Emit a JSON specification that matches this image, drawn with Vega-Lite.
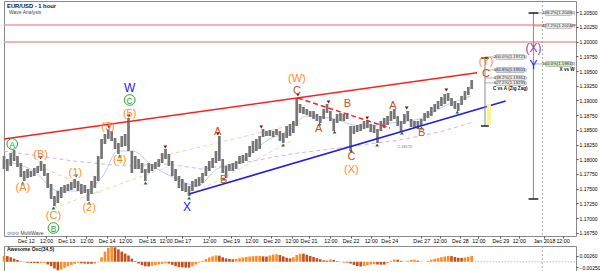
{
"$schema":"https://vega.github.io/schema/vega-lite/v6.json",
"padding":0,
"spacing":0,
"background":"white",
"config":{"view":{"stroke":"#8a8a8a","strokeWidth":1},"font":"Liberation Sans","axis":{"labelFont":"Liberation Sans","labelColor":"#000","tickColor":"#555","labelOverlap":false}},
"datasets":{
"bars":[
{"h":0,"u":1.18055,"l":1.17834},{"h":2,"u":1.18004,"l":1.178},{"h":4,"u":1.18106,"l":1.17885},{"h":6,"u":1.18157,"l":1.1797},{"h":8,"u":1.18055,"l":1.17868},{"h":10,"u":1.17936,"l":1.17698},{"h":12,"u":1.178,"l":1.1763},{"h":14,"u":1.17834,"l":1.17681},{"h":16,"u":1.178,"l":1.17698},{"h":18,"u":1.17851,"l":1.17715},{"h":20,"u":1.17885,"l":1.17766},{"h":22,"u":1.1797,"l":1.178},{"h":24,"u":1.17919,"l":1.17715},{"h":26,"u":1.17766,"l":1.17511},{"h":28,"u":1.17579,"l":1.17324},{"h":30,"u":1.17375,"l":1.17205},{"h":32,"u":1.1746,"l":1.17256},{"h":34,"u":1.17528,"l":1.17341},{"h":36,"u":1.17562,"l":1.17426},{"h":38,"u":1.17579,"l":1.1746},{"h":40,"u":1.17613,"l":1.17477},{"h":42,"u":1.17664,"l":1.17511},{"h":44,"u":1.1763,"l":1.1746},{"h":46,"u":1.17579,"l":1.17409},{"h":48,"u":1.17562,"l":1.17426},{"h":50,"u":1.17494,"l":1.1729},{"h":52,"u":1.1763,"l":1.17409},{"h":54,"u":1.17715,"l":1.17511},{"h":56,"u":1.18055,"l":1.1763},{"h":58,"u":1.18344,"l":1.18004},{"h":60,"u":1.18429,"l":1.18259},{"h":62,"u":1.18514,"l":1.18344},{"h":64,"u":1.1848,"l":1.1831},{"h":66,"u":1.18361,"l":1.18174},{"h":68,"u":1.18276,"l":1.18089},{"h":70,"u":1.18395,"l":1.18208},{"h":72,"u":1.18429,"l":1.18225},{"h":74,"u":1.18701,"l":1.1814},{"h":76,"u":1.1814,"l":1.17766},{"h":78,"u":1.18055,"l":1.17834},{"h":80,"u":1.18004,"l":1.17834},{"h":82,"u":1.17936,"l":1.17766},{"h":84,"u":1.17834,"l":1.1763},{"h":86,"u":1.17936,"l":1.17766},{"h":88,"u":1.17919,"l":1.178},{"h":90,"u":1.17953,"l":1.17834},{"h":92,"u":1.18004,"l":1.17868},{"h":94,"u":1.18106,"l":1.17936},{"h":96,"u":1.18174,"l":1.18004},{"h":98,"u":1.18089,"l":1.17885},{"h":100,"u":1.1797,"l":1.17715},{"h":102,"u":1.17834,"l":1.1763},{"h":104,"u":1.17715,"l":1.17511},{"h":106,"u":1.17664,"l":1.1746},{"h":108,"u":1.17596,"l":1.17443},{"h":110,"u":1.17545,"l":1.17375},{"h":112,"u":1.1763,"l":1.1746},{"h":114,"u":1.17664,"l":1.17528},{"h":116,"u":1.17698,"l":1.17545},{"h":118,"u":1.17766,"l":1.17596},{"h":120,"u":1.17885,"l":1.17715},{"h":122,"u":1.1797,"l":1.178},{"h":124,"u":1.18021,"l":1.17851},{"h":126,"u":1.1814,"l":1.17936},{"h":128,"u":1.18395,"l":1.1797},{"h":130,"u":1.18004,"l":1.17766},{"h":132,"u":1.17885,"l":1.17681},{"h":134,"u":1.17919,"l":1.178},{"h":136,"u":1.17936,"l":1.178},{"h":138,"u":1.1797,"l":1.17834},{"h":140,"u":1.18055,"l":1.17919},{"h":142,"u":1.18072,"l":1.17936},{"h":144,"u":1.18106,"l":1.1797},{"h":146,"u":1.18225,"l":1.18038},{"h":148,"u":1.1831,"l":1.18106},{"h":150,"u":1.18344,"l":1.1814},{"h":152,"u":1.18395,"l":1.18174},{"h":154,"u":1.18514,"l":1.18378},{"h":156,"u":1.1848,"l":1.18395},{"h":158,"u":1.18497,"l":1.18395},{"h":160,"u":1.1848,"l":1.18378},{"h":162,"u":1.18514,"l":1.18412},{"h":164,"u":1.1848,"l":1.1831},{"h":166,"u":1.18446,"l":1.18276},{"h":168,"u":1.18565,"l":1.18361},{"h":170,"u":1.18599,"l":1.18395},{"h":172,"u":1.1865,"l":1.18446},{"h":174,"u":1.19041,"l":1.18565},{"h":176,"u":1.18939,"l":1.18786},{"h":178,"u":1.18888,"l":1.18769},{"h":180,"u":1.18854,"l":1.18752},{"h":182,"u":1.1882,"l":1.18718},{"h":184,"u":1.1882,"l":1.18684},{"h":186,"u":1.18769,"l":1.1865},{"h":188,"u":1.18735,"l":1.18616},{"h":190,"u":1.18854,"l":1.18684},{"h":192,"u":1.18939,"l":1.18786},{"h":194,"u":1.1882,"l":1.1865},{"h":196,"u":1.18684,"l":1.1848},{"h":198,"u":1.18769,"l":1.18616},{"h":200,"u":1.18786,"l":1.1865},{"h":202,"u":1.18769,"l":1.1865},{"h":204,"u":1.18786,"l":1.18684},{"h":206,"u":1.18565,"l":1.1814},{"h":208,"u":1.18565,"l":1.18429},{"h":210,"u":1.18582,"l":1.18463},{"h":212,"u":1.18599,"l":1.1848},{"h":214,"u":1.1865,"l":1.18514},{"h":216,"u":1.18667,"l":1.18531},{"h":218,"u":1.18599,"l":1.18463},{"h":220,"u":1.18582,"l":1.18446},{"h":222,"u":1.18514,"l":1.18276},{"h":224,"u":1.1865,"l":1.1848},{"h":226,"u":1.18701,"l":1.18531},{"h":228,"u":1.18735,"l":1.18582},{"h":230,"u":1.1882,"l":1.1865},{"h":232,"u":1.18854,"l":1.18684},{"h":234,"u":1.18735,"l":1.18565},{"h":236,"u":1.1865,"l":1.1848},{"h":238,"u":1.18769,"l":1.18599},{"h":240,"u":1.1882,"l":1.1865},{"h":242,"u":1.18684,"l":1.18548},{"h":244,"u":1.1865,"l":1.18531},{"h":246,"u":1.1865,"l":1.18514},{"h":248,"u":1.18684,"l":1.18565},{"h":250,"u":1.18786,"l":1.1865},{"h":252,"u":1.1882,"l":1.18701},{"h":254,"u":1.18888,"l":1.18735},{"h":256,"u":1.18939,"l":1.18803},{"h":258,"u":1.1899,"l":1.18854},{"h":260,"u":1.19058,"l":1.18905},{"h":262,"u":1.19109,"l":1.18939},{"h":264,"u":1.19126,"l":1.1899},{"h":266,"u":1.19041,"l":1.18905},{"h":268,"u":1.1899,"l":1.18854},{"h":270,"u":1.18956,"l":1.1882},{"h":272,"u":1.19075,"l":1.18922},{"h":274,"u":1.1916,"l":1.19007},{"h":276,"u":1.19228,"l":1.19092},{"h":278,"u":1.19347,"l":1.19194}
],
"ao":[
{"h":0,"v":0.0026,"d":"up"},{"h":2,"v":0.0025,"d":"down"},{"h":4,"v":0.002,"d":"down"},{"h":6,"v":0.0014,"d":"down"},{"h":8,"v":0.0008,"d":"down"},{"h":10,"v":0.0002,"d":"down"},{"h":12,"v":-0.0002,"d":"down"},{"h":14,"v":-0.0004,"d":"down"},{"h":16,"v":-0.0005,"d":"down"},{"h":18,"v":-0.0006,"d":"down"},{"h":20,"v":-0.0007,"d":"down"},{"h":22,"v":-0.0006,"d":"up"},{"h":24,"v":-0.0005,"d":"up"},{"h":26,"v":-0.0012,"d":"down"},{"h":28,"v":-0.002,"d":"down"},{"h":30,"v":-0.003,"d":"down"},{"h":32,"v":-0.0038,"d":"down"},{"h":34,"v":-0.0034,"d":"up"},{"h":36,"v":-0.0027,"d":"up"},{"h":38,"v":-0.002,"d":"up"},{"h":40,"v":-0.0014,"d":"up"},{"h":42,"v":-0.0009,"d":"up"},{"h":44,"v":-0.0005,"d":"up"},{"h":46,"v":-0.0007,"d":"down"},{"h":48,"v":-0.0008,"d":"down"},{"h":50,"v":-0.0009,"d":"down"},{"h":52,"v":-0.0009,"d":"down"},{"h":54,"v":-0.0008,"d":"up"},{"h":56,"v":-0.0002,"d":"up"},{"h":58,"v":0.002,"d":"up"},{"h":60,"v":0.0045,"d":"up"},{"h":62,"v":0.0062,"d":"up"},{"h":64,"v":0.0068,"d":"up"},{"h":66,"v":0.0064,"d":"down"},{"h":68,"v":0.0055,"d":"down"},{"h":70,"v":0.0045,"d":"down"},{"h":72,"v":0.0036,"d":"down"},{"h":74,"v":0.0028,"d":"down"},{"h":76,"v":0.0014,"d":"down"},{"h":78,"v":0.0003,"d":"down"},{"h":80,"v":-0.0008,"d":"down"},{"h":82,"v":-0.0015,"d":"down"},{"h":84,"v":-0.002,"d":"down"},{"h":86,"v":-0.0021,"d":"down"},{"h":88,"v":-0.0018,"d":"up"},{"h":90,"v":-0.0015,"d":"up"},{"h":92,"v":-0.0012,"d":"up"},{"h":94,"v":-0.0009,"d":"up"},{"h":96,"v":-0.0007,"d":"up"},{"h":98,"v":-0.0008,"d":"down"},{"h":100,"v":-0.0014,"d":"down"},{"h":102,"v":-0.002,"d":"down"},{"h":104,"v":-0.0024,"d":"down"},{"h":106,"v":-0.0025,"d":"down"},{"h":108,"v":-0.0026,"d":"down"},{"h":110,"v":-0.0026,"d":"down"},{"h":112,"v":-0.002,"d":"up"},{"h":114,"v":-0.0012,"d":"up"},{"h":116,"v":-0.0004,"d":"up"},{"h":118,"v":0.0004,"d":"up"},{"h":120,"v":0.0012,"d":"up"},{"h":122,"v":0.0019,"d":"up"},{"h":124,"v":0.0024,"d":"up"},{"h":126,"v":0.0028,"d":"up"},{"h":128,"v":0.0027,"d":"down"},{"h":130,"v":0.002,"d":"down"},{"h":132,"v":0.0015,"d":"down"},{"h":134,"v":0.0012,"d":"down"},{"h":136,"v":0.0011,"d":"down"},{"h":138,"v":0.0013,"d":"up"},{"h":140,"v":0.0016,"d":"up"},{"h":142,"v":0.0019,"d":"up"},{"h":144,"v":0.0021,"d":"up"},{"h":146,"v":0.0023,"d":"up"},{"h":148,"v":0.0025,"d":"up"},{"h":150,"v":0.0026,"d":"up"},{"h":152,"v":0.0026,"d":"up"},{"h":154,"v":0.0024,"d":"down"},{"h":156,"v":0.0023,"d":"down"},{"h":158,"v":0.0028,"d":"up"},{"h":160,"v":0.0032,"d":"up"},{"h":162,"v":0.0033,"d":"up"},{"h":164,"v":0.003,"d":"down"},{"h":166,"v":0.0024,"d":"down"},{"h":168,"v":0.0018,"d":"down"},{"h":170,"v":0.0015,"d":"down"},{"h":172,"v":0.002,"d":"up"},{"h":174,"v":0.003,"d":"up"},{"h":176,"v":0.0036,"d":"up"},{"h":178,"v":0.0036,"d":"down"},{"h":180,"v":0.0031,"d":"down"},{"h":182,"v":0.0026,"d":"down"},{"h":184,"v":0.0021,"d":"down"},{"h":186,"v":0.0016,"d":"down"},{"h":188,"v":0.0011,"d":"down"},{"h":190,"v":0.0006,"d":"down"},{"h":192,"v":0.0005,"d":"down"},{"h":194,"v":0.001,"d":"up"},{"h":196,"v":0.0008,"d":"down"},{"h":198,"v":0.0003,"d":"down"},{"h":200,"v":-0.0001,"d":"down"},{"h":202,"v":-0.0003,"d":"down"},{"h":204,"v":-0.0004,"d":"down"},{"h":206,"v":-0.0008,"d":"down"},{"h":208,"v":-0.0014,"d":"down"},{"h":210,"v":-0.0019,"d":"down"},{"h":212,"v":-0.0021,"d":"down"},{"h":214,"v":-0.0019,"d":"up"},{"h":216,"v":-0.0015,"d":"up"},{"h":218,"v":-0.0012,"d":"up"},{"h":220,"v":-0.0011,"d":"up"},{"h":222,"v":-0.0012,"d":"down"},{"h":224,"v":-0.0013,"d":"down"},{"h":226,"v":-0.0013,"d":"down"},{"h":228,"v":-0.0005,"d":"up"},{"h":230,"v":0.0004,"d":"up"},{"h":232,"v":0.001,"d":"up"},{"h":234,"v":0.0009,"d":"down"},{"h":236,"v":0.0004,"d":"down"},{"h":238,"v":0.0001,"d":"down"},{"h":240,"v":0.0004,"d":"up"},{"h":242,"v":0.0008,"d":"up"},{"h":244,"v":0.0009,"d":"up"},{"h":246,"v":0.0005,"d":"down"},{"h":248,"v":0.0001,"d":"down"},{"h":250,"v":0.0,"d":"down"},{"h":252,"v":0.0004,"d":"up"},{"h":254,"v":0.0009,"d":"up"},{"h":256,"v":0.0013,"d":"up"},{"h":258,"v":0.0016,"d":"up"},{"h":260,"v":0.002,"d":"up"},{"h":262,"v":0.0023,"d":"up"},{"h":264,"v":0.0026,"d":"up"},{"h":266,"v":0.0025,"d":"down"},{"h":268,"v":0.0021,"d":"down"},{"h":270,"v":0.0018,"d":"down"},{"h":272,"v":0.0017,"d":"down"},{"h":274,"v":0.0019,"d":"up"},{"h":276,"v":0.0022,"d":"up"},{"h":278,"v":0.0026,"d":"up"}
],
"lines":[
{"id":"red","h":0,"p":1.18344},{"id":"red","h":281.2,"p":1.1947},
{"id":"blue","h":110,"p":1.17409},{"id":"blue","h":298.2,"p":1.1899},
{"id":"rdash","h":174.7,"p":1.19041},{"id":"rdash","h":229.4,"p":1.18531},
{"id":"pA","h":20.6,"p":1.17885},{"id":"pA","h":57.1,"p":1.17426},
{"id":"pB","h":94.1,"p":1.18055},{"id":"pB","h":176.5,"p":1.18616},
{"id":"gC","h":29.4,"p":1.17171},{"id":"gC","h":97.1,"p":1.17868},
{"id":"gD","h":110,"p":1.17375},{"id":"gD","h":170.6,"p":1.1831},
{"id":"lav","h":0,"p":1.1814},{"id":"lav","h":41.2,"p":1.1797},{"id":"lav","h":70.6,"p":1.17885},{"id":"lav","h":97.1,"p":1.17919},{"id":"lav","h":117.6,"p":1.17834},{"id":"lav","h":141.2,"p":1.17936},{"id":"lav","h":170.6,"p":1.18089},{"id":"lav","h":194.1,"p":1.18174},{"id":"lav","h":235.3,"p":1.18327},{"id":"lav","h":258.8,"p":1.18463},{"id":"lav","h":279.4,"p":1.18633},
{"id":"lb","h":0,"p":1.1797},{"id":"lb","h":17.6,"p":1.178},{"id":"lb","h":32.4,"p":1.1746},{"id":"lb","h":47.1,"p":1.1746},{"id":"lb","h":58.8,"p":1.17715},{"id":"lb","h":67.6,"p":1.1814},{"id":"lb","h":76.5,"p":1.1814},{"id":"lb","h":88.2,"p":1.17885},{"id":"lb","h":102.9,"p":1.17664},{"id":"lb","h":114.7,"p":1.17545},{"id":"lb","h":126.5,"p":1.17834},{"id":"lb","h":141.2,"p":1.1797},{"id":"lb","h":155.9,"p":1.1831},{"id":"lb","h":170.6,"p":1.18514},{"id":"lb","h":179.4,"p":1.18735},{"id":"lb","h":194.1,"p":1.18701},{"id":"lb","h":211.8,"p":1.18565},{"id":"lb","h":229.4,"p":1.18616},{"id":"lb","h":247.1,"p":1.18684},{"id":"lb","h":261.8,"p":1.18905},{"id":"lb","h":277.6,"p":1.19075}
],
"hl":[{"p":1.20282},{"p":1.19993}],
"jan":[{"h":320}],
"vlines":[{"h":285.9,"p1":1.19721,"p2":1.18565},{"h":314.7,"p1":1.20486,"p2":1.17324}],
"caps":[{"h1":283.5,"h2":288.2,"p":1.19721},{"h1":283.5,"h2":288.2,"p":1.18565},{"h1":311.8,"h2":317.6,"p":1.20486},{"h1":311.8,"h2":317.6,"p":1.17324}],
"links":[{"h1":285.9,"h2":292.4,"p":1.19738},{"h1":285.9,"h2":292.4,"p":1.19518},{"h1":285.9,"h2":292.4,"p":1.19382},{"h1":285.9,"h2":292.4,"p":1.19297},{"h1":314.7,"h2":321.8,"p":1.20486},{"h1":314.7,"h2":321.8,"p":1.20265},{"h1":314.7,"h2":321.8,"p":1.1962}],
"yellow":[{"h1":287,"h2":289.4,"p1":1.18582,"p2":1.18939}],
"boxes":[
{"h1":292.4,"h2":309.4,"hc":300.9,"p1":1.19696,"p2":1.19781,"pc":1.19738,"t":"200.0%(1.19725)","k":"g"},
{"h1":292.4,"h2":309.4,"hc":300.9,"p1":1.19475,"p2":1.1956,"pc":1.19518,"t":"161.8%(1.19501)","k":"b"},
{"h1":292.4,"h2":309.4,"hc":300.9,"p1":1.19339,"p2":1.19424,"pc":1.19382,"t":"138.2%(1.19362)","k":"g"},
{"h1":292.4,"h2":309.4,"hc":300.9,"p1":1.19254,"p2":1.19339,"pc":1.19297,"t":"127.2%(1.19295)","k":"g"},
{"h1":321.8,"h2":337.6,"hc":329.7,"p1":1.20444,"p2":1.20529,"pc":1.20486,"t":"138.2%(1.20480)","k":"g"},
{"h1":321.8,"h2":337.6,"hc":329.7,"p1":1.20223,"p2":1.20308,"pc":1.20265,"t":"127.2%(1.20240)","k":"g"},
{"h1":321.8,"h2":337.6,"hc":329.7,"p1":1.19577,"p2":1.19662,"pc":1.1962,"t":"100.0%(1.19813)","k":"e"}
],
"notes":[{"h":300.9,"p":1.19194,"t":"C vs A (Zig Zag)"},{"h":334.7,"p":1.19517,"t":"X vs W"}],
"marks":[
{"h":5.3,"p":1.18191,"k":"hi"},{"h":21.8,"p":1.18021,"k":"hi"},{"h":42.9,"p":1.17715,"k":"hi"},{"h":62.4,"p":1.18548,"k":"hi"},{"h":74.1,"p":1.18735,"k":"hi"},{"h":95.9,"p":1.18208,"k":"hi"},{"h":127.1,"p":1.18429,"k":"hi"},{"h":152.9,"p":1.18548,"k":"hi"},{"h":174.7,"p":1.19092,"k":"hi"},{"h":192.9,"p":1.18973,"k":"hi"},{"h":215.9,"p":1.18701,"k":"hi"},{"h":239.4,"p":1.18871,"k":"hi"},{"h":262.9,"p":1.19177,"k":"hi"},
{"h":11.2,"p":1.17596,"k":"lo"},{"h":29.4,"p":1.17171,"k":"lo"},{"h":50.6,"p":1.17256,"k":"lo"},{"h":68.8,"p":1.18055,"k":"lo"},{"h":84.1,"p":1.17596,"k":"lo"},{"h":110,"p":1.17341,"k":"lo"},{"h":130.6,"p":1.17664,"k":"lo"},{"h":165.9,"p":1.18242,"k":"lo"},{"h":187.6,"p":1.18599,"k":"lo"},{"h":196.5,"p":1.18463,"k":"lo"},{"h":206.5,"p":1.1814,"k":"lo"},{"h":221.8,"p":1.18242,"k":"lo"},{"h":236.5,"p":1.18446,"k":"lo"},{"h":248.2,"p":1.18531,"k":"lo"},{"h":269.4,"p":1.18803,"k":"lo"}
],
"waves":[
{"h":4.9,"p":1.18259,"t":"A","k":"g"},{"h":74.7,"p":1.19007,"t":"C","k":"g"},{"h":29.4,"p":1.16831,"t":"B","k":"g"},
{"h":11.2,"p":1.17511,"t":"(A)","k":"o"},{"h":21.8,"p":1.18072,"t":"(B)","k":"o"},{"h":29.4,"p":1.17035,"t":"(C)","k":"o"},{"h":42.4,"p":1.17766,"t":"(1)","k":"o"},{"h":50.6,"p":1.17171,"t":"(2)","k":"o"},{"h":61.8,"p":1.18548,"t":"(3)","k":"o"},{"h":68.8,"p":1.17987,"t":"(4)","k":"o"},{"h":74.7,"p":1.18769,"t":"(5)","k":"o"},{"h":174.1,"p":1.19364,"t":"(W)","k":"o"},{"h":206.5,"p":1.17817,"t":"(X)","k":"o"},{"h":286.5,"p":1.19653,"t":"(Y)","k":"o"},
{"h":74.7,"p":1.19211,"t":"W","k":"w"},{"h":108.8,"p":1.17188,"t":"X","k":"w"},{"h":314.7,"p":1.19602,"t":"Y","k":"w"},
{"h":127,"p":1.18469,"t":"A","k":"b"},{"h":130.6,"p":1.17647,"t":"B","k":"b"},{"h":174.1,"p":1.1916,"t":"C","k":"b"},{"h":187.1,"p":1.18514,"t":"A","k":"b"},{"h":204.1,"p":1.18939,"t":"B","k":"b"},{"h":206.5,"p":1.18038,"t":"C","k":"b"},{"h":231.2,"p":1.18905,"t":"A","k":"b"},{"h":248.2,"p":1.18446,"t":"B","k":"b"},{"h":286.5,"p":1.19449,"t":"C","k":"b"},
{"h":314.7,"p":1.19891,"t":"(X)","k":"p"}
],
"heads":[{"h":1.8,"p":1.20605,"t":"EUR/USD - 1 hour","k":"t1"},{"h":3,"p":1.20495,"t":"Wave Analysis","k":"t2"},{"h":1.8,"p":1.16746,"t":"⊙⊙⊙ MultiWave","k":"t2"},{"h":234,"p":1.18208,"t":"1.18170","k":"t3"}],
"zero":[{"h1":278,"h2":340,"v":0}],
"aohead":[{"h":1.8,"v":0.0058,"t":"Awesome Osc(34,5)"}]
},
"vconcat":[
{"width":572,"height":235,
"layer":[
{"data":{"name":"hl"},"mark":{"type":"rule","color":"#f29a9a","strokeWidth":1.4},"encoding":{"y":{"field":"p","type":"quantitative"}}},
{"data":{"name":"jan"},"mark":{"type":"rule","color":"#999","strokeDash":[2,2],"strokeWidth":0.8},"encoding":{"x":{"field":"h","type":"quantitative"}}},
{"data":{"name":"lines"},"transform":[{"filter":{"field":"id","equal":"lav"}}],"mark":{"type":"line","color":"#dcb0e6","strokeDash":[4,3],"strokeWidth":1},"encoding":{"x":{"field":"h","type":"quantitative"},"y":{"field":"p","type":"quantitative"}}},
{"data":{"name":"lines"},"transform":[{"filter":{"field":"id","equal":"lb"}}],"mark":{"type":"line","color":"#a9c8f2","strokeWidth":0.9,"interpolate":"monotone"},"encoding":{"x":{"field":"h","type":"quantitative"},"y":{"field":"p","type":"quantitative"}}},
{"data":{"name":"lines"},"transform":[{"filter":{"field":"id","oneOf":["pA","pB"]}}],"mark":{"type":"line","color":"#f8cfa6","strokeDash":[4,3],"strokeWidth":1},"encoding":{"x":{"field":"h","type":"quantitative"},"y":{"field":"p","type":"quantitative"},"detail":{"field":"id"}}},
{"data":{"name":"lines"},"transform":[{"filter":{"field":"id","oneOf":["gC","gD"]}}],"mark":{"type":"line","color":"#d9e2ac","strokeDash":[4,3],"strokeWidth":1},"encoding":{"x":{"field":"h","type":"quantitative"},"y":{"field":"p","type":"quantitative"},"detail":{"field":"id"}}},
{"data":{"name":"bars"},"mark":{"type":"rule","color":"#767676","strokeWidth":2.7},"encoding":{
"x":{"field":"h","type":"quantitative","scale":{"domain":[0,340],"nice":false,"zero":false},"axis":{"orient":"bottom","title":null,"grid":false,"domain":false,"tickSize":2,"tickCount":200,"labelFontSize":5.3,"labelPadding":0,"labelOverlap":false,"labelFlush":false,"values":[13,25,37,49,61,72,85,96,106,122,135,147,159,171,181,194,206,218,229,248,259,271,282,295,306,321,332],"labelExpr":"['Dec 12','12:00','Dec 13','12:00','Dec 14','12:00','Dec 15','12:00','Dec 17','12:00','Dec 19','12:00','Dec 20','12:00','Dec 21','12:00','Dec 22','12:00','Dec 24','Dec 27','12:00','Dec 28','12:00','Dec 29','12:00','Jan 2018','12:00'][indexof([13,25,37,49,61,72,85,96,106,122,135,147,159,171,181,194,206,218,229,248,259,271,282,295,306,321,332], datum.value)]"}},
"y":{"field":"u","type":"quantitative","scale":{"domain":[1.16695,1.2069],"nice":false,"zero":false},"axis":{"orient":"right","title":null,"grid":false,"domain":false,"tickSize":2,"tickCount":200,"labelFontSize":5,"labelPadding":1,"labelOverlap":false,"format":".5f","values":[1.1675,1.17,1.1725,1.175,1.1775,1.18,1.1825,1.185,1.1875,1.19,1.1925,1.195,1.1975,1.2,1.2025,1.205]}},
"y2":{"field":"l"}}},
{"data":{"name":"lines"},"transform":[{"filter":{"field":"id","equal":"red"}}],"mark":{"type":"line","color":"#ff1f1f","strokeWidth":1.6},"encoding":{"x":{"field":"h","type":"quantitative"},"y":{"field":"p","type":"quantitative"}}},
{"data":{"name":"lines"},"transform":[{"filter":{"field":"id","equal":"blue"}}],"mark":{"type":"line","color":"#1f1fe6","strokeWidth":1.6},"encoding":{"x":{"field":"h","type":"quantitative"},"y":{"field":"p","type":"quantitative"}}},
{"data":{"name":"lines"},"transform":[{"filter":{"field":"id","equal":"rdash"}}],"mark":{"type":"line","color":"#ff1f1f","strokeWidth":1.5,"strokeDash":[5,3]},"encoding":{"x":{"field":"h","type":"quantitative"},"y":{"field":"p","type":"quantitative"}}},
{"data":{"name":"yellow"},"mark":{"type":"rect","color":"#fbf38a"},"encoding":{"x":{"field":"h1","type":"quantitative"},"x2":{"field":"h2"},"y":{"field":"p1","type":"quantitative"},"y2":{"field":"p2"}}},
{"data":{"name":"vlines"},"mark":{"type":"rule","color":"#8a8a8a","strokeWidth":1},"encoding":{"x":{"field":"h","type":"quantitative"},"y":{"field":"p1","type":"quantitative"},"y2":{"field":"p2"}}},
{"data":{"name":"links"},"mark":{"type":"rule","color":"#9a9a9a","strokeWidth":0.8},"encoding":{"x":{"field":"h1","type":"quantitative"},"x2":{"field":"h2"},"y":{"field":"p","type":"quantitative"}}},
{"data":{"name":"caps"},"mark":{"type":"rule","color":"#111","strokeWidth":1.4},"encoding":{"x":{"field":"h1","type":"quantitative"},"x2":{"field":"h2"},"y":{"field":"p","type":"quantitative"}}},
{"data":{"name":"boxes"},"mark":{"type":"rect","stroke":"#8c8c8c","strokeWidth":0.5,"cornerRadius":1},"encoding":{"x":{"field":"h1","type":"quantitative"},"x2":{"field":"h2"},"y":{"field":"p1","type":"quantitative"},"y2":{"field":"p2"},"fill":{"field":"k","type":"nominal","legend":null,"scale":{"domain":["g","b","e"],"range":["#e8e8e8","#c9d3f2","#cdebc4"]}}}},
{"data":{"name":"boxes"},"mark":{"type":"text","fontSize":4.3,"color":"#333"},"encoding":{"x":{"field":"hc","type":"quantitative"},"y":{"field":"pc","type":"quantitative"},"text":{"field":"t"}}},
{"data":{"name":"notes"},"mark":{"type":"text","fontSize":4.6,"fontWeight":"bold","color":"#111"},"encoding":{"x":{"field":"h","type":"quantitative"},"y":{"field":"p","type":"quantitative"},"text":{"field":"t"}}},
{"data":{"name":"marks"},"transform":[{"filter":{"field":"k","equal":"hi"}}],"mark":{"type":"point","shape":"triangle-down","filled":true,"size":14,"color":"#7a1414","opacity":1},"encoding":{"x":{"field":"h","type":"quantitative"},"y":{"field":"p","type":"quantitative"}}},
{"data":{"name":"marks"},"transform":[{"filter":{"field":"k","equal":"lo"}}],"mark":{"type":"point","shape":"triangle-up","filled":true,"size":14,"color":"#1d7a1d","opacity":1},"encoding":{"x":{"field":"h","type":"quantitative"},"y":{"field":"p","type":"quantitative"}}},
{"data":{"name":"waves"},"transform":[{"filter":{"field":"k","equal":"g"}}],"mark":{"type":"point","shape":"circle","size":115,"fill":"#f4fbf4","stroke":"#3aa03a","strokeWidth":1,"opacity":1,"filled":false},"encoding":{"x":{"field":"h","type":"quantitative"},"y":{"field":"p","type":"quantitative"}}},
{"data":{"name":"waves"},"transform":[{"filter":{"field":"k","equal":"g"}}],"mark":{"type":"text","fontSize":8.5,"color":"#3aa03a","baseline":"middle","dy":0.5},"encoding":{"x":{"field":"h","type":"quantitative"},"y":{"field":"p","type":"quantitative"},"text":{"field":"t"}}},
{"data":{"name":"waves"},"transform":[{"filter":{"field":"k","oneOf":["o","b"]}}],"mark":{"type":"text","fontSize":11,"baseline":"middle"},"encoding":{"x":{"field":"h","type":"quantitative"},"y":{"field":"p","type":"quantitative"},"text":{"field":"t"},"color":{"field":"k","type":"nominal","legend":null,"scale":{"domain":["o","b","w","p"],"range":["#ff8c26","#c4501c","#1a1aff","#8e3ba8"]}}}},
{"data":{"name":"waves"},"transform":[{"filter":{"field":"k","oneOf":["w","p"]}}],"mark":{"type":"text","fontSize":12,"baseline":"middle"},"encoding":{"x":{"field":"h","type":"quantitative"},"y":{"field":"p","type":"quantitative"},"text":{"field":"t"},"color":{"field":"k","type":"nominal","legend":null}}},
{"data":{"name":"heads"},"transform":[{"filter":{"field":"k","equal":"t1"}}],"mark":{"type":"text","fontSize":5.8,"fontWeight":"bold","align":"left","baseline":"middle","color":"#111"},"encoding":{"x":{"field":"h","type":"quantitative"},"y":{"field":"p","type":"quantitative"},"text":{"field":"t"}}},
{"data":{"name":"heads"},"transform":[{"filter":{"field":"k","equal":"t2"}}],"mark":{"type":"text","fontSize":5,"align":"left","baseline":"middle","color":"#444"},"encoding":{"x":{"field":"h","type":"quantitative"},"y":{"field":"p","type":"quantitative"},"text":{"field":"t"}}},
{"data":{"name":"heads"},"transform":[{"filter":{"field":"k","equal":"t3"}}],"mark":{"type":"text","fontSize":4,"align":"left","baseline":"middle","color":"#777"},"encoding":{"x":{"field":"h","type":"quantitative"},"y":{"field":"p","type":"quantitative"},"text":{"field":"t"}}}
]},
{"width":572,"height":27,
"layer":[
{"data":{"name":"jan"},"mark":{"type":"rule","color":"#999","strokeDash":[2,2],"strokeWidth":0.8},"encoding":{"x":{"field":"h","type":"quantitative","scale":{"domain":[0,340],"nice":false,"zero":false},"axis":null}}},
{"data":{"name":"zero"},"mark":{"type":"rule","color":"#888","strokeDash":[1,2],"strokeWidth":0.8},"encoding":{"x":{"field":"h1","type":"quantitative"},"x2":{"field":"h2"},"y":{"field":"v","type":"quantitative"}}},
{"data":{"name":"ao"},"mark":{"type":"rule","strokeWidth":2.6},"encoding":{"x":{"field":"h","type":"quantitative"},"y":{"field":"v","type":"quantitative","scale":{"domain":[-0.005,0.007],"nice":false,"zero":false},"axis":{"orient":"right","title":null,"grid":false,"domain":false,"tickSize":2,"tickCount":50,"labelFontSize":5,"labelPadding":1,"labelOverlap":false,"format":".5f","values":[-0.0025,0.0026]}},"y2":{"datum":0},"color":{"field":"d","type":"nominal","legend":null,"scale":{"domain":["up","down"],"range":["#3d3dff","#a83434"]}}}},
{"data":{"name":"aohead"},"mark":{"type":"text","fontSize":5,"fontWeight":"bold","align":"left","baseline":"middle","color":"#111"},"encoding":{"x":{"field":"h","type":"quantitative"},"y":{"field":"v","type":"quantitative"},"text":{"field":"t"}}}
]}
]
}
